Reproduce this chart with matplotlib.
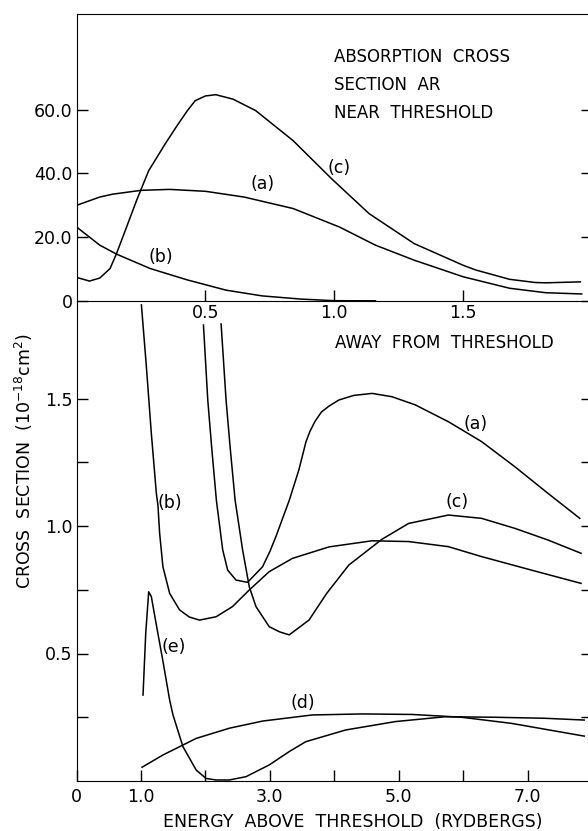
import numpy as np
import matplotlib.pyplot as plt

plt.rcParams['font.family'] = 'DejaVu Sans'
plt.rcParams['font.size'] = 12.5

# top panel: near threshold (x in Rydbergs, y in 1e-18 cm^2)
a_top_x = [0.0, 0.09, 0.14, 0.25, 0.36, 0.50, 0.65, 0.84, 1.02, 1.16, 1.31, 1.50, 1.68, 1.82, 1.96]
a_top_y = [30.0, 32.6, 33.5, 34.7, 35.0, 34.4, 32.6, 29.0, 23.2, 17.5, 12.8, 7.6, 4.0, 2.6, 2.2]

b_top_x = [0.0, 0.09, 0.155, 0.285, 0.43, 0.58, 0.72, 0.87, 1.0, 1.16]
b_top_y = [23.2, 17.5, 14.7, 10.2, 6.6, 3.4, 1.6, 0.6, 0.1, 0.05]

c_top_x = [0.0, 0.05, 0.09, 0.13, 0.155, 0.194, 0.233, 0.28, 0.344, 0.39, 0.43, 0.46, 0.50, 0.54,
           0.607, 0.695, 0.84, 0.99, 1.135, 1.31, 1.50, 1.55, 1.68, 1.78, 1.82, 1.955]
c_top_y = [7.4, 6.25, 7.2, 10.2, 14.9, 23.2, 31.6, 40.9, 49.3, 55.0, 59.7, 62.8, 64.3, 64.7,
           63.3, 59.7, 50.3, 38.3, 27.4, 18.0, 11.2, 9.7, 6.8, 5.8, 5.7, 6.0]

# bottom panel: away from threshold
a_x = [1.969, 2.036, 2.10, 2.17, 2.268, 2.345, 2.474, 2.654, 2.886, 3.0, 3.093, 3.30, 3.45, 3.56,
       3.62, 3.70, 3.80, 3.917, 4.07, 4.30, 4.586, 4.895, 5.257, 5.771, 6.286, 6.80, 7.317, 7.81]
a_y = [1.788, 1.494, 1.298, 1.10, 0.906, 0.827, 0.788, 0.779, 0.84, 0.90, 0.958, 1.10, 1.22, 1.33,
       1.37, 1.41, 1.447, 1.47, 1.494, 1.512, 1.52, 1.507, 1.475, 1.409, 1.331, 1.233, 1.128, 1.03]

b_x = [1.006, 1.083, 1.16, 1.238, 1.263, 1.289, 1.34, 1.444, 1.598, 1.75, 1.907, 2.165, 2.42, 2.68,
       2.99, 3.35, 3.917, 4.586, 5.153, 5.771, 6.286, 7.06, 7.83]
b_y = [1.867, 1.625, 1.363, 1.128, 1.08, 0.971, 0.84, 0.736, 0.671, 0.643, 0.631, 0.644, 0.684, 0.749,
       0.821, 0.873, 0.918, 0.942, 0.939, 0.919, 0.88, 0.827, 0.775]

c_x = [2.243, 2.32, 2.387, 2.46, 2.577, 2.68, 2.784, 2.99, 3.15, 3.30, 3.607, 3.88, 4.226, 4.74,
       5.153, 5.771, 6.286, 6.80, 7.317, 7.83]
c_y = [1.792, 1.494, 1.298, 1.102, 0.906, 0.762, 0.684, 0.605, 0.585, 0.573, 0.631, 0.735, 0.847, 0.948,
       1.01, 1.043, 1.03, 0.991, 0.945, 0.893]

d_x = [1.016, 1.34, 1.856, 2.371, 2.886, 3.66, 4.43, 5.204, 5.977, 6.75, 7.88]
d_y = [0.054, 0.102, 0.167, 0.207, 0.235, 0.259, 0.263, 0.261, 0.25, 0.226, 0.176]

e_x = [1.031, 1.073, 1.119, 1.16, 1.238, 1.34, 1.444, 1.495, 1.65, 1.856, 2.01, 2.165, 2.37, 2.63,
       2.99, 3.298, 3.556, 4.175, 4.948, 5.72, 6.49, 7.266, 7.88]
e_y = [0.337, 0.579, 0.742, 0.723, 0.612, 0.47, 0.318, 0.26, 0.135, 0.043, 0.01, 0.004, 0.004, 0.017,
       0.063, 0.115, 0.154, 0.2, 0.233, 0.252, 0.25, 0.246, 0.239]

top_yticks = [0, 20, 40, 60]
top_ylabels = ['0', '20.0', '40.0', '60.0']
top_xticks = [0.5, 1.0, 1.5]
top_xlabels = ['0.5', '1.0', '1.5']
bot_yticks = [0.25, 0.5, 0.75, 1.0, 1.25, 1.5]
bot_ylabels = ['', '0.5', '', '1.0', '', '1.5']
bot_xticks = [0, 1, 2, 3, 4, 5, 6, 7]
bot_xlabels = ['0', '1.0', '', '3.0', '', '5.0', '', '7.0']

W, H = 588, 831
fig = plt.figure(figsize=(W / 100, H / 100), dpi=100)
left, right = 76.6, 592
ax2 = fig.add_axes([left / W, 1 - 781 / H, (right - left) / W, (781 - 301) / H])
ax1 = fig.add_axes([left / W, 1 - 301 / H, (right - left) / W, (301 - 14) / H])
ax1.patch.set_visible(False)

lw = 1.1
ax1.plot(a_top_x, a_top_y, color='black', lw=lw)
ax1.plot(b_top_x, b_top_y, color='black', lw=lw)
ax1.plot(c_top_x, c_top_y, color='black', lw=lw)
ax1.set_xlim(0, 2.0)
ax1.set_ylim(0, 90)
ax1.set_xticks(top_xticks)
ax1.set_xticklabels(top_xlabels)
ax1.set_yticks(top_yticks)
ax1.set_yticklabels(top_ylabels)
ax1.tick_params(direction='in', length=8, width=1, right=True, pad=3)
ax1.tick_params(axis='x', pad=2)
ax1.text(0.72, 36.8, '(a)', ha='center', va='center')
ax1.text(0.326, 13.8, '(b)', ha='center', va='center')
ax1.text(1.02, 41.7, '(c)', ha='center', va='center')
ax1.text(1.0, 76.6, 'ABSORPTION  CROSS', va='center', fontsize=12)
ax1.text(1.0, 67.8, 'SECTION  AR', va='center', fontsize=12)
ax1.text(1.0, 59.0, 'NEAR  THRESHOLD', va='center', fontsize=12)

ax2.plot(a_x, a_y, color='black', lw=lw)
ax2.plot(b_x, b_y, color='black', lw=lw)
ax2.plot(c_x, c_y, color='black', lw=lw)
ax2.plot(d_x, d_y, color='black', lw=lw)
ax2.plot(e_x, e_y, color='black', lw=lw)
ax2.set_xlim(0, 8.0)
ax2.set_ylim(0, 480 / 255)
ax2.set_xticks(bot_xticks)
ax2.set_xticklabels(bot_xlabels)
ax2.set_yticks(bot_yticks)
ax2.set_yticklabels(bot_ylabels)
ax2.tick_params(direction='in', length=8, width=1, right=True, pad=3)
ax2.tick_params(axis='x', pad=5)
ax2.spines['top'].set_visible(False)
ax2.text(6.2, 1.40, '(a)', ha='center', va='center')
ax2.text(1.45, 1.089, '(b)', ha='center', va='center')
ax2.text(5.91, 1.095, '(c)', ha='center', va='center')
ax2.text(3.51, 0.305, '(d)', ha='center', va='center')
ax2.text(1.51, 0.524, '(e)', ha='center', va='center')
ax2.text(5.71, 1.718, 'AWAY  FROM  THRESHOLD', ha='center', va='center', fontsize=12)

fig.text(24 / W, 1 - 461 / H, r'CROSS  SECTION  (10$^{-18}$cm$^2$)', rotation=90,
         ha='center', va='center', fontsize=12.5)
fig.text(353 / W, 1 - 822 / H, 'ENERGY  ABOVE  THRESHOLD  (RYDBERGS)',
         ha='center', va='center', fontsize=12.5)

fig.savefig('out.png', dpi=100)
